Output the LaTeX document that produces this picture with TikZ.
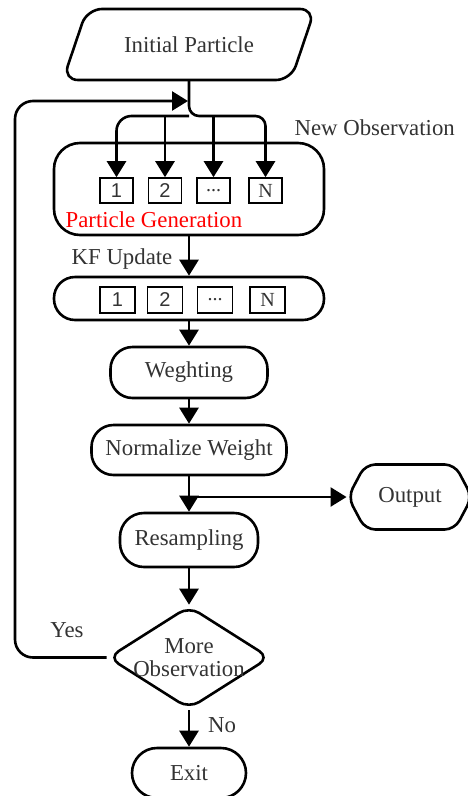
\documentclass[tikz,border=0pt]{standalone}
\usepackage{fontspec}
\setmainfont{Liberation Serif}
\newfontfamily\digitfont{Liberation Sans}
\usetikzlibrary{shapes.geometric,shapes.symbols,arrows.meta}
\tikzstyle{process}=[rectangle, draw, rounded corners=22pt, inner sep=0pt]
\tikzstyle{cell}=[rectangle, draw, line width=1.6pt, minimum width=33pt, minimum height=25pt, inner sep=0pt, font=\fontsize{20}{22}\selectfont]
\tikzstyle{flow}=[-{Triangle[width=19pt,length=16pt]}]

\begin{document}
\begin{tikzpicture}[x=1pt, y=-1pt, line width=2.6pt, font=\fontsize{22.8}{23}\selectfont, text=black!80]
    \useasboundingbox (0,0) rectangle (467,796);
    \node (init) at (189,44.5) {Initial Particle};
    \draw[rounded corners=15pt] (63,80) -- (87,9) -- (315,9) -- (291,80) -- cycle;
    \coordinate (initbase) at (189,80);
    \node[process, rounded corners=26pt, minimum width=270pt, minimum height=92pt] (gen) at (189,189) {};
    \node[cell] (g1) at (116.5,190.5) {\digitfont 1};
    \node[cell] (g2) at (165,190.5) {\digitfont 2};
    \node[cell] (g3) at (213.5,190.5) {...};
    \node[cell] (g4) at (265.5,190.5) {N};
    \node[anchor=west, text=red] (genlabel) at (61,220) {Particle Generation};
    \node[anchor=west] (newobs) at (290,128) {New Observation};
    \node[anchor=east] (kflabel) at (177,259) {KF Update};
    \node[process, rounded corners=21pt, minimum width=270pt, minimum height=43pt] (kf) at (189,298.5) {};
    \node[cell, minimum width=35pt, minimum height=26pt] (k1) at (117.5,300) {\digitfont 1};
    \node[cell, minimum width=35pt, minimum height=26pt] (k2) at (165,300) {\digitfont 2};
    \node[cell, minimum width=35pt, minimum height=26pt] (k3) at (215,300) {...};
    \node[cell, minimum width=35pt, minimum height=26pt] (k4) at (267.5,300) {N};
    \node[process, minimum width=157pt, minimum height=51pt] (weight) at (189,372.5) {Weghting};
    \node[process, minimum width=195pt, minimum height=50pt] (norm) at (189,450) {Normalize Weight};
    \node[process, rounded corners=24pt, minimum width=138pt, minimum height=54pt] (resample) at (189,540) {Resampling};
    \node[signal, signal to=west and east, signal pointer angle=124, draw, rounded corners=10pt,
        minimum width=124pt, minimum height=65pt, inner sep=0pt] (output) at (410,497) {Output};
    \node[diamond, draw, rounded corners=12pt, minimum width=162pt, minimum height=103pt, inner sep=0pt,
        label={[align=center, text=black!80, font=\fontsize{22.8}{23}\selectfont]center:More\\Observation}] (decide) at (189,657.5) {};
    \node[process, rounded corners=25pt, minimum width=114pt, minimum height=50pt] (exit) at (189,773) {Exit};
    \node (yes) at (67,630) {Yes};
    \node (no) at (222,725) {No};
    \coordinate (split) at (189,116);
    \coordinate (join) at (188,101);
    \coordinate (rail) at (15,101);
    \coordinate (tap) at (189,497);
    \draw[flow, rounded corners=10pt] (initbase) |- (split -| g4.north) -- (g4.north);
    \draw[flow, rounded corners=15pt] (split) -| (g1.north);
    \draw[flow] (split -| g2.north) -- (g2.north);
    \draw[flow] (split -| g3.north) -- (g3.north);
    \draw[flow, rounded corners=18pt] (decide.west) -| (rail) -- (join);
    \draw[flow] (gen) -- (kf);
    \draw[flow] (kf) -- (weight);
    \draw[flow] (weight) -- (norm);
    \draw[flow] (norm) -- (resample);
    \draw[flow] (tap) -- (output.west);
    \draw[flow] (resample) -- (decide);
    \draw[flow] (decide) -- (exit);
\end{tikzpicture}
\end{document}
